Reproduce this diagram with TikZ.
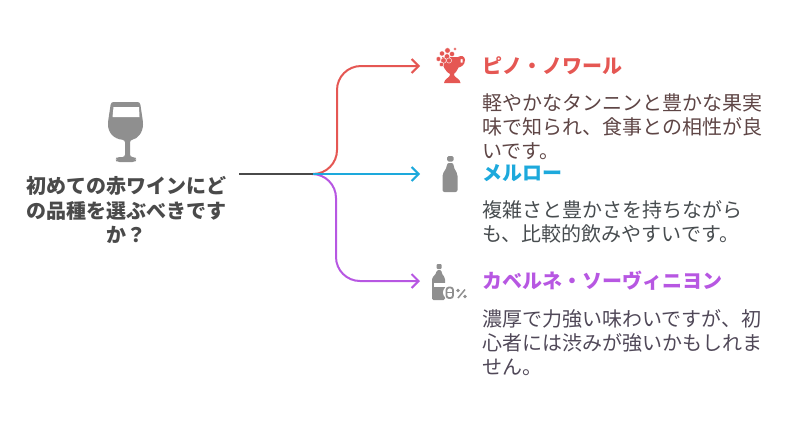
\documentclass[tikz,border=0pt]{standalone}
\usepackage{fontspec}
\setmainfont{Noto Sans CJK JP}
\usepackage{xcolor}
\usetikzlibrary{arrows.meta,positioning}
\definecolor{redline}{HTML}{E55753}
\definecolor{blueline}{HTML}{1DA9DC}
\definecolor{purpleline}{HTML}{B757E2}
\definecolor{darkline}{HTML}{4A4A4A}
\definecolor{icongray}{HTML}{8F8F8F}
\definecolor{redbody}{HTML}{5E4545}
\definecolor{bluebody}{HTML}{474C4F}
\definecolor{purplebody}{HTML}{504858}
\begin{document}
\begin{tikzpicture}[
        x=1pt,y=-1pt,
        >={Straight Barb[length=7pt,width=14pt]},
        question/.style={font=\fontsize{20}{24.5}\selectfont\bfseries,text=darkline,align=center,inner sep=0pt},
        heading/.style={font=\fontsize{20}{24}\selectfont\bfseries,anchor=west,inner sep=0pt},
        body/.style={font=\fontsize{20}{24}\selectfont,align=left,inner sep=0pt},
        arrow/.style={->,line width=2pt,rounded corners=24pt},
        grape/.style={fill=redline,draw=white,line width=0.4pt}
    ]
        \useasboundingbox (0,0) rectangle (792,426);

        % wine glass
        \fill[icongray,even odd rule,rounded corners=2.5pt] (111,102) -- (140,102) -- (143,122) .. controls (143,133) and (137,139) .. (130,140) -- (130,157) -- (135,157) -- (136.5,159.5) -- (135,162) -- (117,162) -- (115.5,159.5) -- (117,157) -- (125,157) -- (125,140) .. controls (114,139) and (108,133) .. (108,122) -- cycle;
        \fill[white] (113.5,107) -- (139,107) -- (139.5,117) -- (112.5,117) -- cycle;
        \node[question] (question) at (126,210) {初めての赤ワインにど\\の品種を選ぶべきです\\か？};

        % connectors
        \coordinate (start) at (239,174);
        \coordinate (split) at (313,174);
        \coordinate (pinotend) at (420,66);
        \coordinate (merlotend) at (420,174);
        \coordinate (cabernetend) at (420,281);
        \draw[arrow,redline] (split) -- (337,174) -- (337,66) -- (pinotend);
        \draw[arrow,purpleline] (split) -- (336,174) -- (336,281) -- (cabernetend);
        \draw[arrow,blueline] (split) -- (merlotend);
        \draw[line width=2pt,darkline] (start) -- (split);

        % grape cup
        \fill[redline,even odd rule] (442,57) -- (458,57) .. controls (461,55) and (465,56) .. (465,60) .. controls (465,65) and (461,67) .. (458.5,67.5) .. controls (457,71) and (455,73) .. (454,74) -- (454.5,76) .. controls (456,78) and (460,79) .. (460.5,83) -- (444,83) .. controls (444.5,79) and (448.5,78) .. (449.5,76) -- (450,74) .. controls (446,72) and (442,67) .. (442,57) -- cycle
            (460.5,59) rectangle (462.5,62.5);
        \foreach \gx/\gy/\gr in {447.5/50.5/2.8,455/49/1.6,442/53.5/2.6,447/56.5/2.8,438.5/59/2.4,443.5/60.5/2.8,449/60.5/2.6,441.5/64.5/2.2,452/54/2.6} {
            \filldraw[grape] (\gx,\gy) circle (\gr pt);
        }
        \node[heading,text=redline] (pinot) at (482,66) {ピノ・ノワール};
        \node[body,text=redbody,below=18pt of pinot.south west,anchor=north west] (pinotbody) {軽やかなタンニンと豊かな果実\\味で知られ、食事との相性が良\\いです。};

        % merlot bottle
        \fill[icongray,rounded corners=1.5pt] (447,156) rectangle (453.5,161.5);
        \fill[icongray,rounded corners=2pt] (447,163) -- (453.5,163) -- (453.5,167) -- (457.5,174) -- (457.5,192) -- (442.5,192) -- (442.5,174) -- (447,167) -- cycle;
        \node[heading,text=blueline] (merlot) at (482,173) {メルロー};
        \node[body,text=bluebody,below=18.5pt of merlot.south west,anchor=north west] (merlotbody) {複雑さと豊かさを持ちながら\\も、比較的飲みやすいです。};

        % cabernet bottle
        \fill[icongray,rounded corners=1pt] (436.5,264) rectangle (441.5,269);
        \fill[icongray,rounded corners=1.5pt] (436.5,270) -- (441.5,270) -- (441.5,273) -- (445,278) -- (445,300) -- (432,300) -- (432,278) -- (436.5,273) -- cycle;
        \fill[white] (434,283) rectangle (446,287);
        \fill[white] (449.5,292.5) circle (6.5pt);
        \draw[icongray,line width=1.8pt,rounded corners=2.5pt] (446.5,287.5) rectangle (453,298);
        \draw[icongray,line width=1.5pt] (447,292.5) -- (452.5,292.5);
        \draw[icongray,line width=1.5pt] (458,298) -- (465,289.5);
        \fill[icongray] (458,290.5) circle (1.9pt) (465,296.5) circle (1.9pt);
        \node[heading,text=purpleline] (cabernet) at (482,281) {カベルネ・ソーヴィニヨン};
        \node[body,text=purplebody,below=18pt of cabernet.south west,anchor=north west] (cabernetbody) {濃厚で力強い味わいですが、初\\心者には渋みが強いかもしれま\\せん。};
    \end{tikzpicture}
\end{document}
